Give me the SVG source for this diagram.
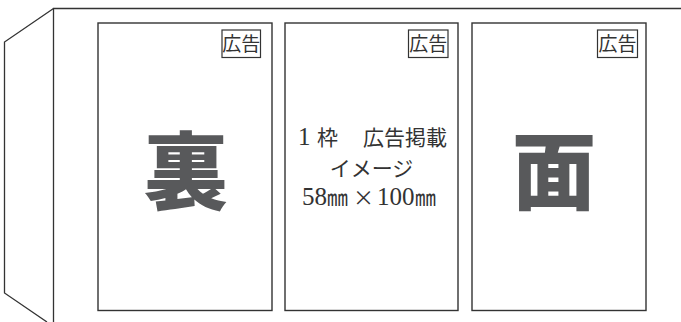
<svg xmlns="http://www.w3.org/2000/svg" width="681" height="322" viewBox="0 0 681 322">
<style>
.ln{fill:none;stroke:#333;stroke-width:1.3}
.box{fill:#fff;stroke:#333;stroke-width:1.4}
.tag{fill:#fff;stroke:#333;stroke-width:1.2}
.tagt{font-family:"Liberation Serif","Noto Sans CJK JP",serif;font-size:19px;fill:#333;text-anchor:middle}
.big{font-family:"Noto Sans CJK JP",sans-serif;font-weight:900;font-size:84px;fill:#58595b;text-anchor:middle}
.mid{font-family:"Liberation Serif","Noto Sans CJK JP",serif;font-size:21px;fill:#333;text-anchor:middle}
.l1{font-family:"Liberation Serif","Noto Sans CJK JP",serif;font-size:21px;fill:#333}
.dig{font-size:25px}
.dim{font-family:"Liberation Serif","Noto Sans CJK JP",serif;font-size:25px;fill:#333}
.mm{font-family:"Noto Sans CJK JP",sans-serif;font-size:21px}
.x{font-family:"Noto Sans CJK JP",sans-serif;font-size:21px}
</style>
<rect width="681" height="322" fill="#fff"/>
<g id="outline">
<polyline class="ln" points="681,8.5 53.5,8.5 53.5,322"/>
<polyline class="ln" points="53.5,8.5 4.5,42 4.5,293 47,322"/>
</g>
<g id="panel-back">
<rect class="box" x="98" y="23" width="174" height="287.5"/>
<rect class="tag" x="222" y="30" width="38.5" height="27.5"/>
<text class="tagt" x="241.2" y="51">広告</text>
<text class="big" x="186" y="203">裏</text>
</g>
<g id="panel-middle">
<rect class="box" x="285" y="23" width="173" height="287.5"/>
<rect class="tag" x="408.5" y="30" width="39.5" height="27.5"/>
<text class="tagt" x="428.2" y="51">広告</text>
<text class="l1" y="145"><tspan class="dig" x="298">1</tspan><tspan x="317">枠　</tspan><tspan x="363">広告掲載</tspan></text>
<text class="mid" x="371.5" y="176">イメージ</text>
<text class="dim" y="205"><tspan x="302">58</tspan><tspan class="mm" x="327">㎜</tspan><tspan class="x" x="353">×</tspan><tspan x="377">100</tspan><tspan class="mm" x="415">㎜</tspan></text>
</g>
<g id="panel-front">
<rect class="box" x="472" y="23" width="174" height="287.5"/>
<rect class="tag" x="597.5" y="30" width="40" height="27.5"/>
<text class="tagt" x="617.5" y="51">広告</text>
<text class="big" x="554" y="203">面</text>
</g>
</svg>
